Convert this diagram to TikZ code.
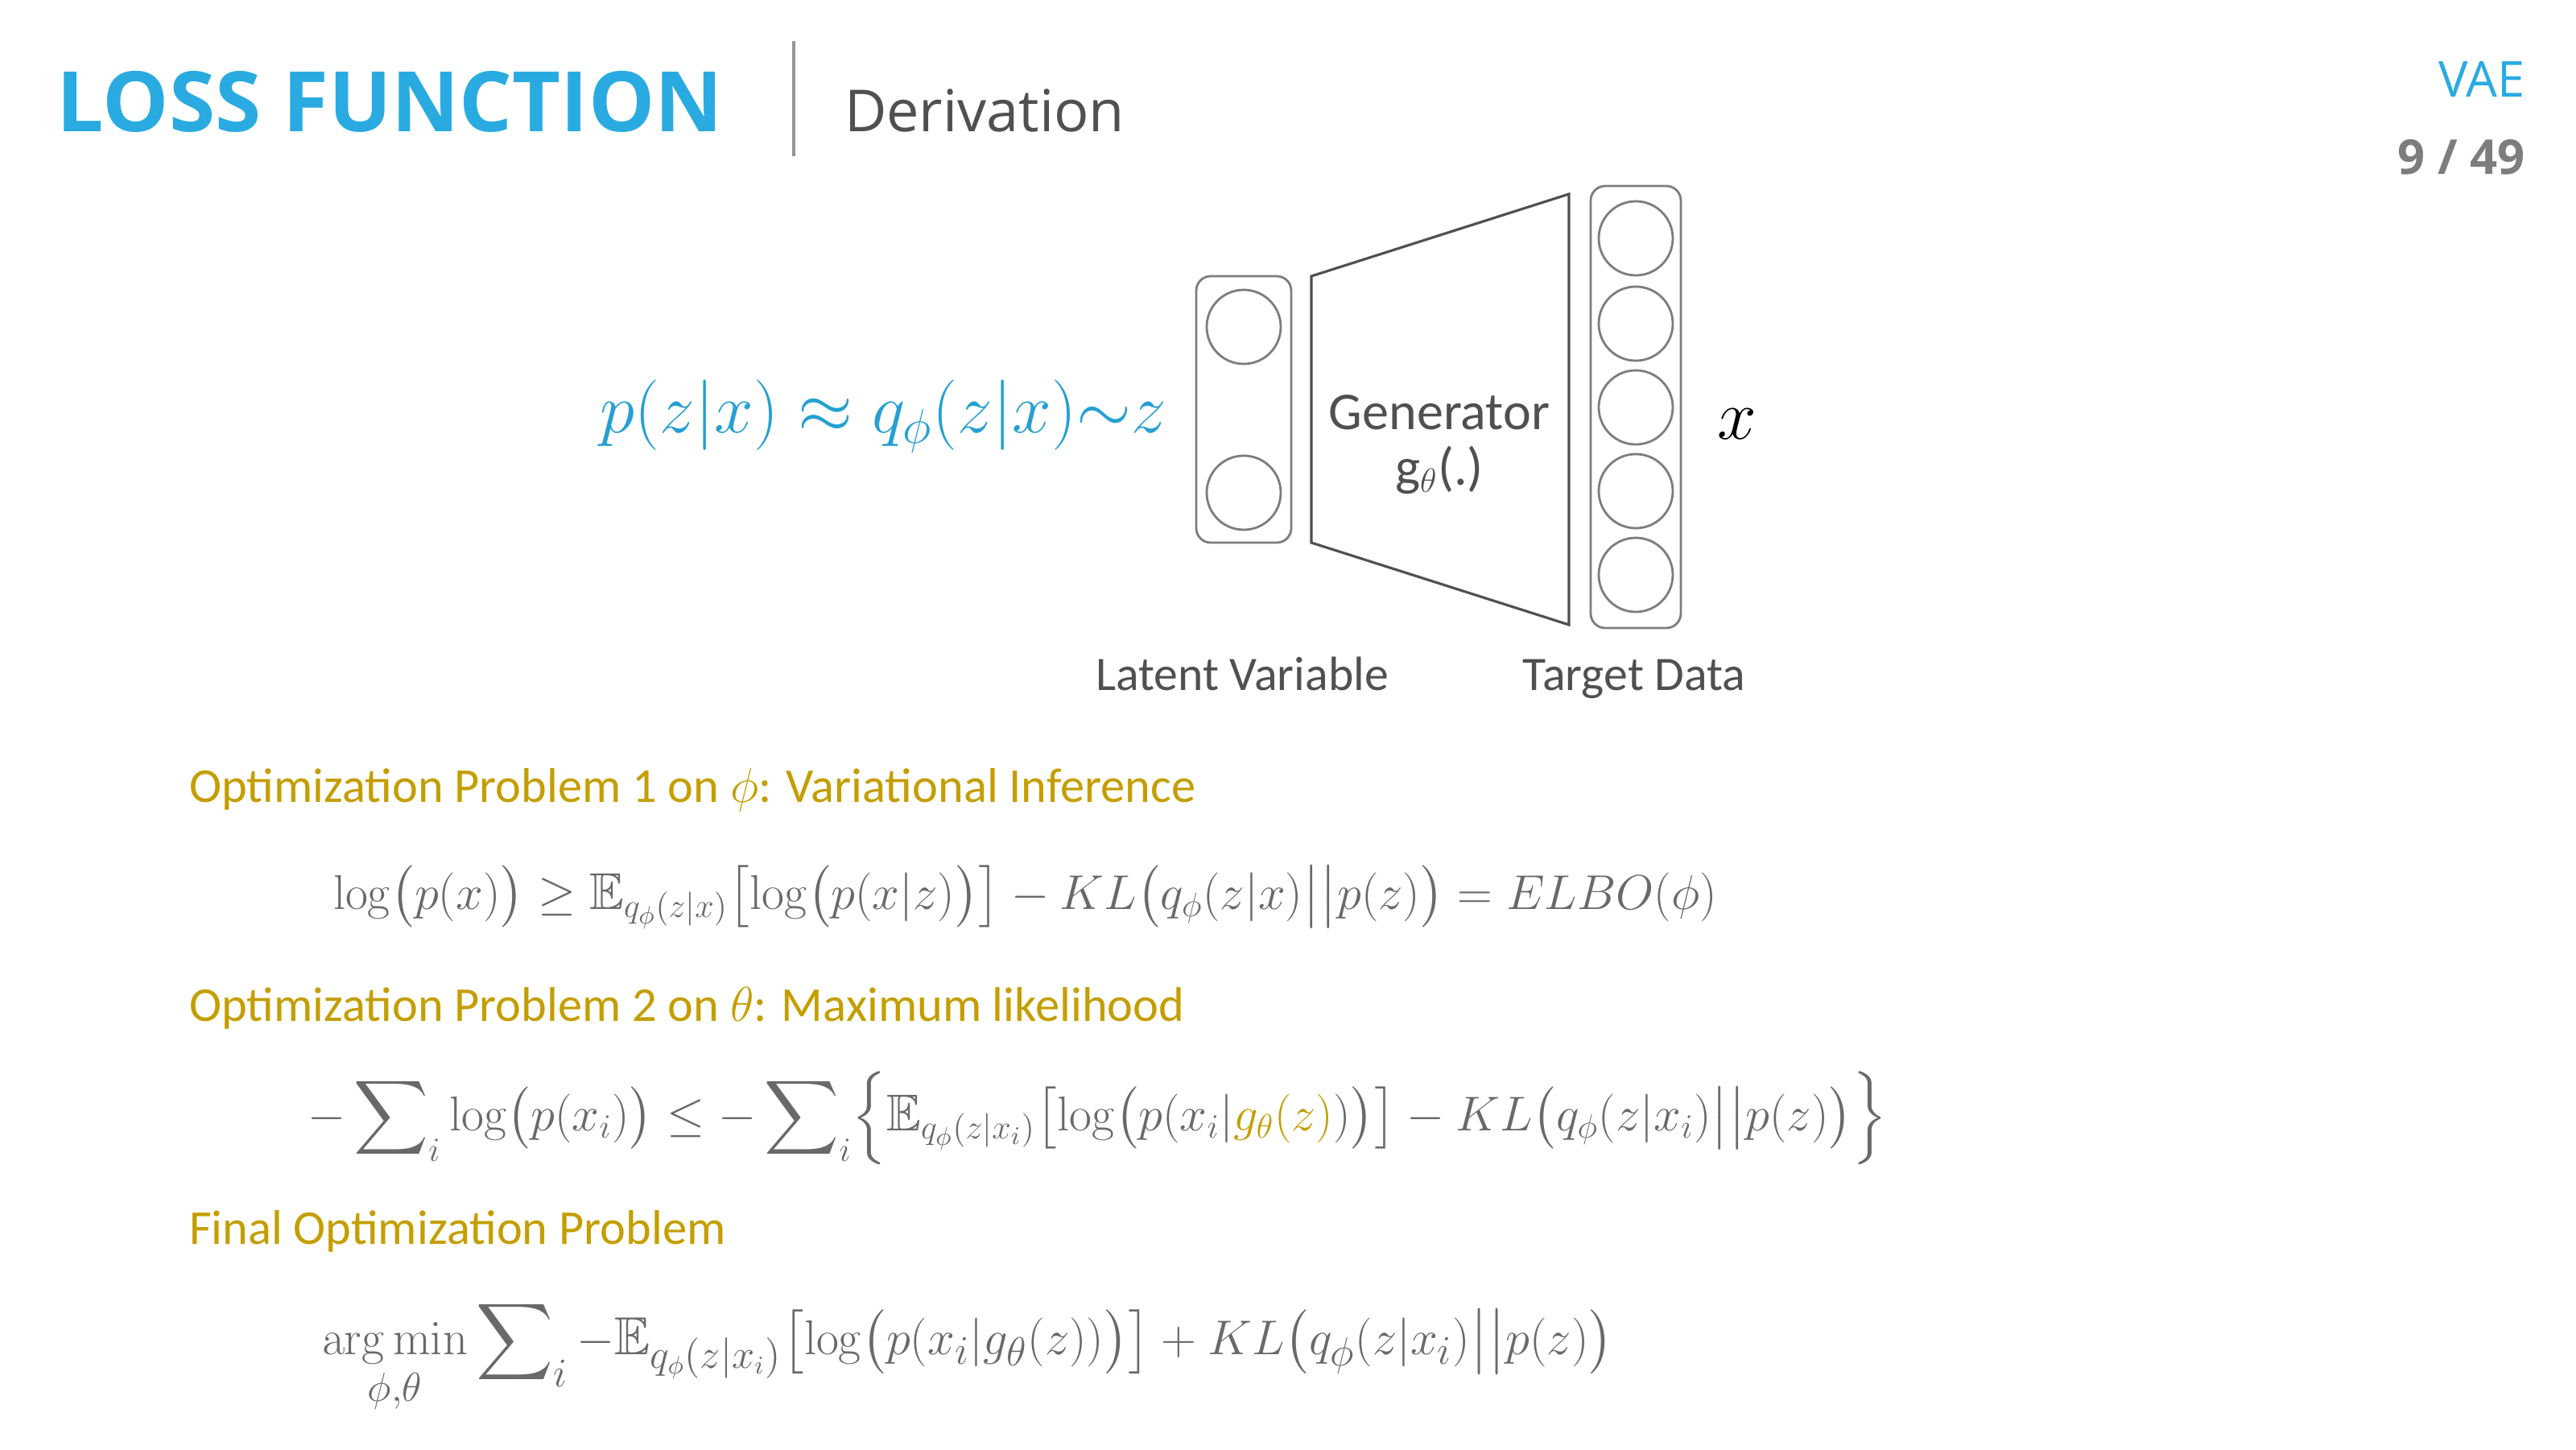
\documentclass[tikz,border=0pt]{standalone}
\usepackage{amsmath,amssymb}
\usepackage[no-math]{fontspec}
\setmainfont{Carlito}
\newfontfamily\headfont{Open Sans}
\definecolor{vaeblue}{RGB}{41,171,226}
\definecolor{formcyan}{RGB}{38,160,210}
\definecolor{optgold}{RGB}{196,158,0}
\definecolor{mathgray}{RGB}{105,105,105}
\definecolor{boxgray}{RGB}{125,125,125}
\definecolor{gengray}{RGB}{80,80,80}
\definecolor{rulegray}{RGB}{150,150,150}

\begin{document}
\begin{tikzpicture}[y=-1cm,
  every node/.style={inner sep=0pt, outer sep=0pt},
  unit/.style={draw=boxgray, line width=0.8pt, circle, minimum size=0.92cm},
  layer/.style={draw=boxgray, line width=0.8pt, rounded corners=0.18cm},
  heading/.style={text=optgold, font=\fontsize{17.2}{21}\selectfont, anchor=base west},
  eqn/.style={text=mathgray, font=\fontsize{18.3}{22}\selectfont, anchor=base west},
  caption/.style={text=gengray, font=\fontsize{17}{20}\selectfont, anchor=base}]
  \useasboundingbox (0,0) rectangle (32,18);

  \node[anchor=base west, text=vaeblue, font=\headfont\bfseries\fontsize{29.5}{35}\selectfont] (title) at (0.71,1.63) {LOSS FUNCTION};
  \draw[rulegray, line width=0.9pt] (9.86,0.51) -- (9.86,1.94);
  \node[anchor=base west, text=gengray, font=\headfont\fontsize{20.5}{25}\selectfont] (sub) at (10.49,1.63) {Derivation};
  \node[anchor=base east, text=vaeblue, font=\headfont\fontsize{17.5}{21}\selectfont] (topic) at (31.37,1.20) {VAE};
  \node[anchor=base east, text=boxgray, font=\headfont\bfseries\fontsize{17}{20}\selectfont] (page) at (31.37,2.16) {9 / 49};

  \node[anchor=base east, text=formcyan, font=\fontsize{24}{29}\selectfont] (post) at (14.49,5.37) {$p(z|x) \approx q_\phi(z|x){\sim}z$};

  \node[layer, minimum width=1.18cm, minimum height=3.31cm] (zbox) at (15.45,5.085) {};
  \foreach \n/\y in {1/4.06,2/6.12}
    \node[unit] (z\n) at (15.45,\y) {};
  \draw[gengray, line width=0.9pt] (16.29,3.43) -- (19.49,2.41) -- (19.49,7.76) -- (16.29,6.74) -- cycle;
  \node[anchor=base, text=gengray, font=\fontsize{18.8}{23}\selectfont] (gen) at (17.88,5.33) {Generator};
  \node[anchor=base, text=gengray, font=\fontsize{18.8}{23}\selectfont] (gfun) at (17.88,6.02) {g$_\theta$(.)};
  \node[layer, minimum width=1.12cm, minimum height=5.49cm] (xbox) at (20.32,5.055) {};
  \foreach \n/\y in {1/2.96,2/4.02,3/5.06,4/6.10,5/7.14}
    \node[unit] (x\n) at (20.32,\y) {};
  \node[anchor=base, font=\fontsize{34}{40}\selectfont] (xvar) at (21.58,5.45) {$x$};

  \node[caption] (zlab) at (15.43,8.57) {Latent Variable};
  \node[caption] (xlab) at (20.30,8.57) {Target Data};

  \node[heading] (h1) at (2.35,9.96) {Optimization Problem 1 on $\phi$: Variational Inference};
  \node[eqn] (e1) at (4.14,11.29) {$\log\bigl(p(x)\bigr) \geq \mathbb{E}_{q_\phi(z|x)}\bigl[\log\bigl(p(x|z)\bigr)\bigr] - KL\bigl(q_\phi(z|x)\big|\big|p(z)\bigr) = ELBO(\phi)$};
  \node[heading] (h2) at (2.35,12.68) {Optimization Problem 2 on $\theta$: Maximum likelihood};
  \node[eqn] (e2) at (3.82,14.04) {$\displaystyle -\sum\nolimits_i \log\bigl(p(x_i)\bigr) \leq -\sum\nolimits_i \Bigl\{\mathbb{E}_{q_\phi(z|x_i)}\bigl[\log\bigl(p(x_i|{\color{optgold}g_\theta(z)})\bigr)\bigr] - KL\bigl(q_\phi(z|x_i)\big|\big|p(z)\bigr)\Bigr\}$};
  \node[heading] (h3) at (2.35,15.45) {Final Optimization Problem};
  \node[eqn, font=\fontsize{18.9}{23}\selectfont] (e3) at (4.00,16.82) {$\displaystyle \operatorname*{arg\,min}_{\phi,\theta} \sum\nolimits_i -\mathbb{E}_{q_\phi(z|x_i)}\bigl[\log\bigl(p(x_i|g_\theta(z))\bigr)\bigr] + KL\bigl(q_\phi(z|x_i)\big|\big|p(z)\bigr)$};
\end{tikzpicture}
\end{document}
